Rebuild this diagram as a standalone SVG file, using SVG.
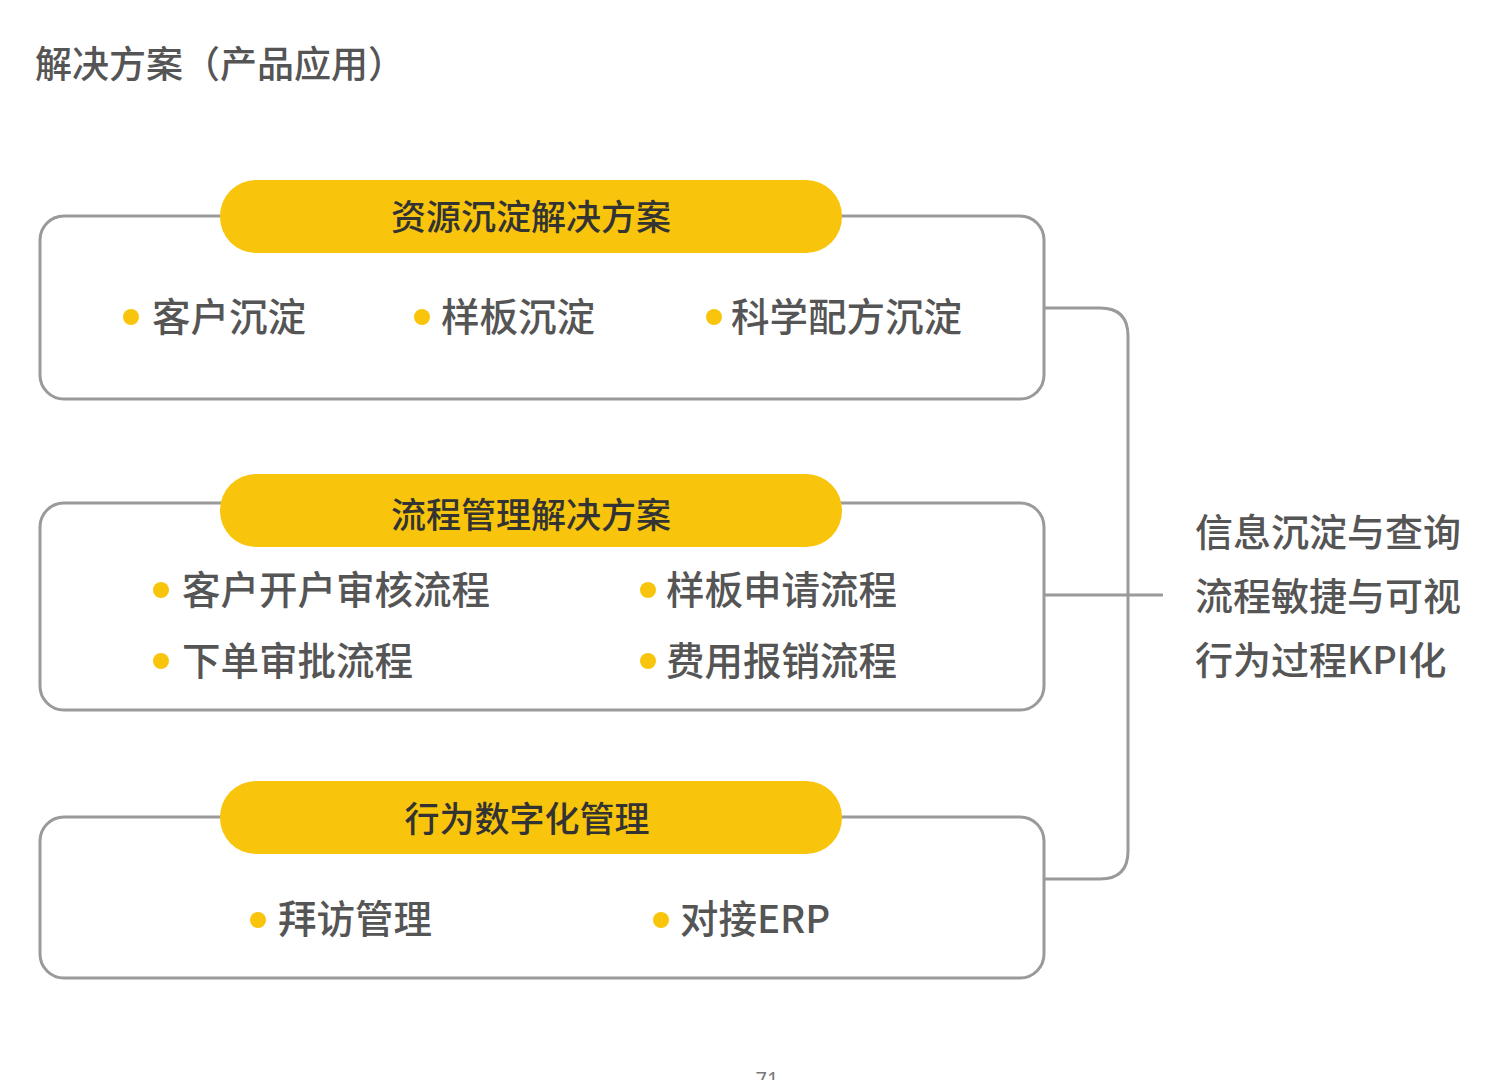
<svg xmlns="http://www.w3.org/2000/svg" width="1498" height="1080" viewBox="0 0 1498 1080">
<style>
.box{fill:#fff;stroke:#9a9a9a;stroke-width:3}
.pill{fill:#F8C50C}
.ph{font-family:"Noto Sans CJK SC","Noto Sans",sans-serif;font-size:35px;font-weight:500;fill:#333;text-anchor:middle}
.it{font-family:"Noto Sans CJK SC","Noto Sans",sans-serif;font-size:38.5px;font-weight:500;fill:#555}
.dot{fill:#F8C50C}
.rt{font-family:"Noto Sans CJK SC","Noto Sans",sans-serif;font-size:38px;font-weight:500;fill:#555}
.ln{fill:none;stroke:#9a9a9a;stroke-width:3}
</style>
<rect width="1498" height="1080" fill="#fff"/>
<text x="35" y="78" font-family="Noto Sans CJK SC,sans-serif" font-size="37" font-weight="500" fill="#555">解决方案（产品应用）</text>
<g id="connectors">
<path class="ln" d="M1044 308 H1100 Q1128 308 1128 336 V851 Q1128 879 1100 879 H1044"/>
<path class="ln" d="M1044 595 H1163"/>
</g>
<g id="node1">
<rect class="box" x="40" y="216" width="1004" height="183" rx="24"/>
<rect class="pill" x="220" y="180" width="622" height="73" rx="36"/>
<text class="ph" x="531" y="230">资源沉淀解决方案</text>
<circle class="dot" cx="131" cy="317" r="8"/><text class="it" x="152" y="331">客户沉淀</text>
<circle class="dot" cx="422" cy="317" r="8"/><text class="it" x="441" y="331">样板沉淀</text>
<circle class="dot" cx="714" cy="317" r="8"/><text class="it" x="731" y="331">科学配方沉淀</text>
</g>
<g id="node2">
<rect class="box" x="40" y="503" width="1004" height="207" rx="24"/>
<rect class="pill" x="220" y="474" width="622" height="73" rx="36"/>
<text class="ph" x="531" y="528">流程管理解决方案</text>
<circle class="dot" cx="161" cy="590" r="8"/><text class="it" x="182" y="604">客户开户审核流程</text>
<circle class="dot" cx="648" cy="590" r="8"/><text class="it" x="666" y="604">样板申请流程</text>
<circle class="dot" cx="161" cy="661" r="8"/><text class="it" x="182" y="675">下单审批流程</text>
<circle class="dot" cx="648" cy="661" r="8"/><text class="it" x="666" y="675">费用报销流程</text>
</g>
<g id="node3">
<rect class="box" x="40" y="817" width="1004" height="161" rx="24"/>
<rect class="pill" x="220" y="781" width="622" height="73" rx="36"/>
<text class="ph" x="527" y="832">行为数字化管理</text>
<circle class="dot" cx="258" cy="920" r="8"/><text class="it" x="278" y="933">拜访管理</text>
<circle class="dot" cx="661" cy="920" r="8"/><text class="it" x="680" y="933">对接ERP</text>
</g>
<g id="summary">
<text class="rt" x="1195" y="546">信息沉淀与查询</text>
<text class="rt" x="1195" y="610">流程敏捷与可视</text>
<text class="rt" x="1195" y="674">行为过程KPI化</text>
</g>
<text x="767" y="1086" font-family="Noto Sans,sans-serif" font-size="20" fill="#777" text-anchor="middle">71</text>
</svg>
